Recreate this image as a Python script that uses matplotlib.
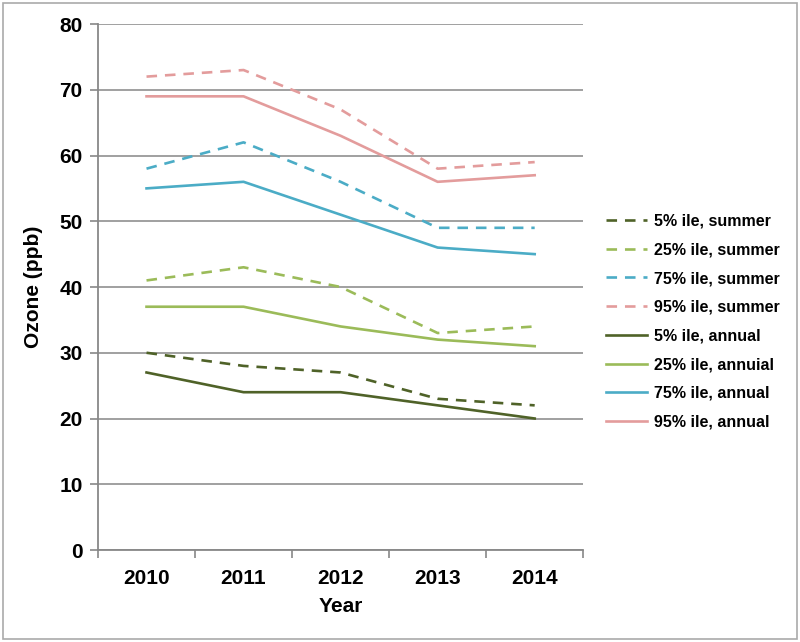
import matplotlib.pyplot as plt
from matplotlib.patches import Rectangle

plt.rcParams['font.family'] = ['Liberation Sans', 'DejaVu Sans']
plt.rcParams['font.weight'] = 'bold'

# Dados
anos = ['2010', '2011', '2012', '2013', '2014']
p5_verao = [30, 28, 27, 23, 22]
p25_verao = [41, 43, 40, 33, 34]
p75_verao = [58, 62, 56, 49, 49]
p95_verao = [72, 73, 67, 58, 59]
p5_anual = [27, 24, 24, 22, 20]
p25_anual = [37, 37, 34, 32, 31]
p75_anual = [55, 56, 51, 46, 45]
p95_anual = [69, 69, 63, 56, 57]

rotulos = ['5% ile, summer', '25% ile, summer', '75% ile, summer', '95% ile, summer',
           '5% ile, annual', '25% ile, annuial', '75% ile, annual', '95% ile, annual']
cores = ['#4F6228', '#9BBB59', '#4BACC6', '#E39C9C']

fig = plt.figure(figsize=(8, 6.42), dpi=100)
ax = fig.add_axes([0.1225, 0.1433, 0.6065, 0.8193])

x = range(len(anos))
series = [p5_verao, p25_verao, p75_verao, p95_verao, p5_anual, p25_anual, p75_anual, p95_anual]
for i, (serie, rotulo) in enumerate(zip(series, rotulos)):
    cor = cores[i % 4]
    if i < 4:
        ax.plot(x, serie, color=cor, lw=1.9, dashes=(4, 3), label=rotulo)
    else:
        ax.plot(x, serie, color=cor, lw=1.9, label=rotulo)

ax.set_xlim(-0.5, 4.5)
ax.set_ylim(0, 80)
ax.set_yticks(range(0, 81, 10))
ax.set_xticks(list(x))
ax.set_xticklabels(anos)
ax.set_xticks([i - 0.5 for i in range(6)], minor=True)
ax.tick_params(axis='x', which='major', length=0, labelsize=15, pad=14)
ax.tick_params(axis='x', which='minor', length=6, color='#888888', width=1.2)
ax.tick_params(axis='y', length=6, color='#888888', width=1.2, labelsize=15, pad=5)
ax.grid(axis='y', color='#999999', lw=1.3)
ax.set_axisbelow(True)
for lado in ['top', 'right']:
    ax.spines[lado].set_visible(False)
for lado in ['left', 'bottom']:
    ax.spines[lado].set_color('#888888')
    ax.spines[lado].set_linewidth(1.3)

ax.set_xlabel('Year', fontsize=15, fontweight='bold', labelpad=6)
ax.set_ylabel('Ozone (ppb)', fontsize=15, fontweight='bold', labelpad=12)

fig.legend(loc='center left', bbox_to_anchor=(0.757, 0.499), frameon=False,
           fontsize=11.5, handlelength=2.6, handletextpad=0.45, labelspacing=0.86,
           borderpad=0, borderaxespad=0)

# Moldura em volta da figura
fig.patches.append(Rectangle((0.004, 0.004), 0.992, 0.992, transform=fig.transFigure,
                             fill=False, edgecolor='#AAAAAA', lw=1.2))

plt.savefig('out.png', dpi=100)
